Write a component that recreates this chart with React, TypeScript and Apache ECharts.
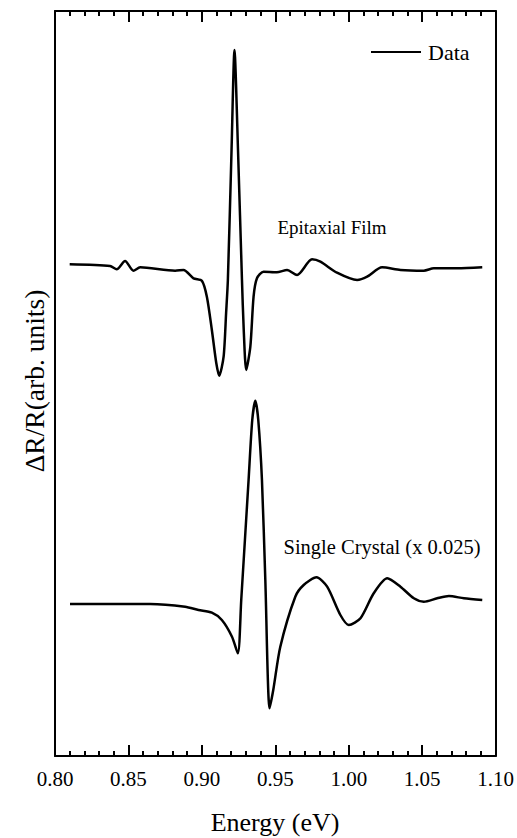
import React, { useEffect, useRef } from "react";
import * as echarts from "echarts";

// Energy (eV) and ΔR/R (arbitrary units)
const epiEnergy = [0.810, 0.8375, 0.842, 0.8477, 0.8534, 0.858, 0.8818, 0.8875, 0.8943, 0.900, 0.9034, 0.9068, 0.9098, 0.9118, 0.9148, 0.9165, 0.9177, 0.9202, 0.9222, 0.9246, 0.9273, 0.9285, 0.9302, 0.933, 0.9352, 0.9375, 0.942, 0.951, 0.958, 0.9648, 0.975, 0.9807, 0.992, 1.0057, 1.0125, 1.0227, 1.0352, 1.0511, 1.0579, 1.0739, 1.0909];
const epiValue = [491.7, 490, 486.7, 495, 485.3, 488.7, 485.3, 486, 477.7, 475.3, 459.3, 426, 393, 380.3, 399.3, 443, 476, 606, 706, 606, 476, 426, 386, 409.3, 459.3, 477.7, 484.3, 483.7, 486, 481, 496.7, 494.3, 483.3, 476, 479.3, 488.7, 486, 485.3, 487.7, 487.7, 488.7];

const scEnergy = [0.8102, 0.8648, 0.8886, 0.8977, 0.9068, 0.9136, 0.9205, 0.9245, 0.9268, 0.9318, 0.9343, 0.9364, 0.9384, 0.9409, 0.9432, 0.9461, 0.9486, 0.9534, 0.9636, 0.9693, 0.978, 0.9853, 0.9943, 1.0, 1.008, 1.017, 1.0262, 1.0352, 1.0443, 1.0511, 1.0602, 1.0682, 1.0784, 1.0909];
const scValue = [152, 152, 149.3, 146, 143.3, 136, 119.3, 102.7, 156, 276, 336, 355.3, 336, 276, 176, 47.7, 66, 109.3, 159.3, 171, 178.7, 169.3, 141, 131, 137.7, 162.7, 177.7, 169.3, 157.7, 154.3, 157.7, 160, 157.7, 156];

const seriesName = "Data";
const epiLabel = "Epitaxial Film";
const scLabel = "Single Crystal (x 0.025)";
const xTitle = "Energy (eV)";
const yTitle = "ΔR/R(arb. units)";

const FONT = "'Liberation Serif', serif";

export default function App() {
  const ref = useRef<HTMLDivElement>(null);
  useEffect(() => {
    if (!ref.current) return;
    const chart = echarts.init(ref.current, undefined, { renderer: "svg" });
    const epi = epiEnergy.map((e, i) => [e, epiValue[i]]);
    const sc = scEnergy.map((e, i) => [e, scValue[i]]);
    const mkX = (pos: string, showLabel: boolean) => ({
      type: "value",
      position: pos,
      min: 0.8,
      max: 1.1,
      interval: 0.05,
      axisLine: { show: true, onZero: false, lineStyle: { color: "#000", width: 2 } },
      axisTick: { show: true, inside: true, length: 11, lineStyle: { color: "#000", width: 2 } },
      minorTick: { show: true, splitNumber: 5, length: 5, lineStyle: { color: "#000", width: 2 } },
      splitLine: { show: false },
      axisLabel: showLabel
        ? { show: true, margin: 12, fontSize: 21, color: "#000", fontFamily: FONT, formatter: (v: number) => v.toFixed(2) }
        : { show: false },
    });
    const mkY = (pos: string) => ({
      type: "value",
      position: pos,
      min: 0,
      max: 745,
      axisLine: { show: true, onZero: false, lineStyle: { color: "#000", width: 2 } },
      axisTick: { show: false },
      axisLabel: { show: false },
      splitLine: { show: false },
    });
    chart.setOption({
      animation: false,
      backgroundColor: "#fff",
      grid: { left: 55, right: 21, top: 11, bottom: 82 },
      legend: {
        data: [seriesName],
        left: 366,
        top: 36,
        icon: "rect",
        itemWidth: 50,
        itemHeight: 2,
        itemGap: 10,
        textStyle: { fontFamily: FONT, fontSize: 22, color: "#000", padding: [0, 0, 0, 2] },
      },
      xAxis: [mkX("bottom", true), mkX("top", false)],
      yAxis: [mkY("left"), mkY("right")],
      series: [
        {
          name: seriesName,
          type: "line",
          data: epi,
          symbol: "none",
          smooth: 0.25,
          lineStyle: { color: "#000", width: 2.5 },
          itemStyle: { color: "#000" },
        },
        {
          name: seriesName,
          type: "line",
          data: sc,
          symbol: "none",
          smooth: 0.25,
          lineStyle: { color: "#000", width: 2.5 },
          itemStyle: { color: "#000" },
        },
      ],
      graphic: [
        { type: "text", x: 332, y: 227, style: { text: epiLabel, fontFamily: FONT, fontSize: 19, fill: "#000", align: "center", verticalAlign: "middle" } },
        { type: "text", x: 382, y: 547, style: { text: scLabel, fontFamily: FONT, fontSize: 20.5, fill: "#000", align: "center", verticalAlign: "middle" } },
        { type: "text", x: 275, y: 822, style: { text: xTitle, fontFamily: FONT, fontSize: 26, fill: "#000", align: "center", verticalAlign: "middle" } },
        { type: "text", x: 34, y: 381, rotation: Math.PI / 2, style: { text: yTitle, fontFamily: FONT, fontSize: 27.5, fill: "#000", align: "center", verticalAlign: "middle" } },
      ],
    });
    return () => chart.dispose();
  }, []);
  return <div ref={ref} style={{ width: 517, height: 838, position: "absolute", left: 0, top: 0 }} />;
}
